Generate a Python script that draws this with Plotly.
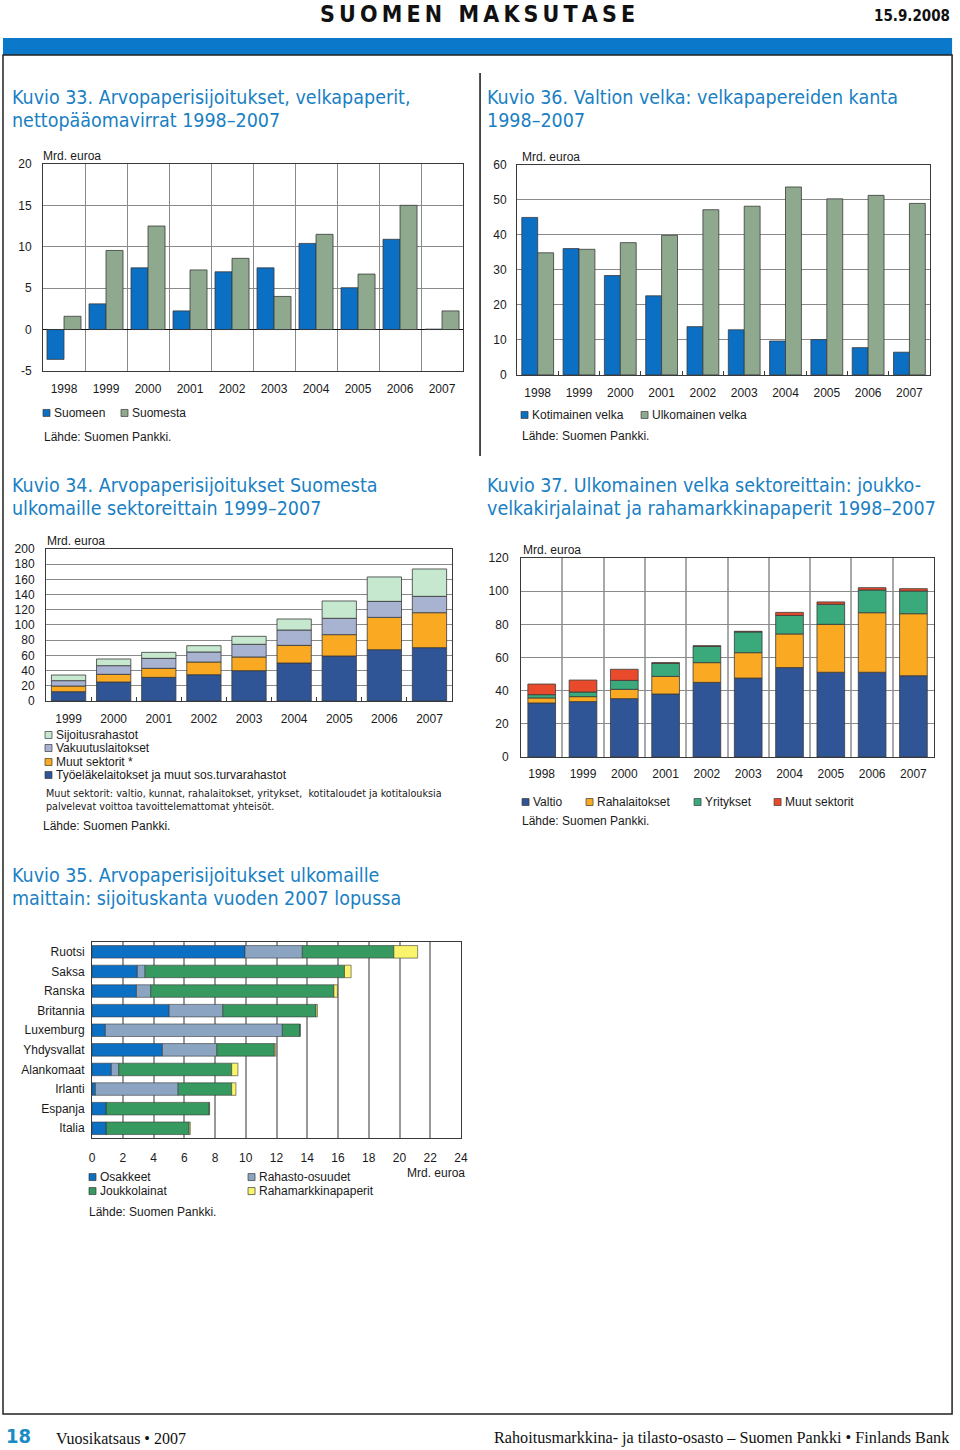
import plotly.graph_objects as go
import numpy as np

# ---------------- data ----------------
years_98 = ["1998", "1999", "2000", "2001", "2002", "2003", "2004", "2005", "2006", "2007"]
years_99 = ["1999", "2000", "2001", "2002", "2003", "2004", "2005", "2006", "2007"]

# Kuvio 33
suomeen = [-3.6, 3.1, 7.45, 2.25, 6.97, 7.45, 10.4, 5.05, 10.9, 0.05]
suomesta = [1.6, 9.55, 12.5, 7.2, 8.6, 4.0, 11.5, 6.7, 15.0, 2.25]
ticks_33 = [-5, 0, 5, 10, 15, 20]
ticklabels_33 = ["-5", "0", "5", "10", "15", "20"]

# Kuvio 36
kotimainen = [45.0, 36.1, 28.4, 22.6, 13.8, 12.9, 9.7, 10.1, 7.8, 6.5]
ulkomainen = [34.9, 35.9, 37.8, 39.9, 47.2, 48.2, 53.7, 50.3, 51.3, 49.0]

# Kuvio 34
tyoelake = [12.3, 25.0, 31.1, 34.6, 39.9, 50.0, 59.2, 67.5, 70.2]
muut_34 = [7.4, 10.1, 11.9, 16.7, 18.0, 23.2, 28.1, 42.5, 46.0]
vakuutus = [7.1, 11.4, 13.1, 13.2, 16.7, 20.2, 21.5, 21.1, 21.5]
sijoitus = [7.4, 8.8, 7.9, 8.3, 10.5, 14.5, 22.8, 32.1, 36.0]

# Kuvio 37
valtio = [32.6, 33.4, 35.2, 38.0, 45.0, 47.6, 53.9, 51.1, 51.1, 49.0]
rahalaitokset = [3.0, 3.0, 5.6, 10.6, 11.9, 15.3, 20.3, 28.9, 35.9, 37.4]
yritykset = [2.0, 2.8, 5.4, 7.9, 9.8, 12.5, 11.2, 12.1, 13.7, 13.7]
muut_37 = [6.4, 7.2, 6.7, 0.4, 0.4, 0.4, 1.8, 1.4, 1.4, 1.4]

# Kuvio 35
maat = ["Ruotsi", "Saksa", "Ranska", "Britannia", "Luxemburg", "Yhdysvallat",
        "Alankomaat", "Irlanti", "Espanja", "Italia"]
osakkeet = [9.95, 2.95, 2.89, 5.02, 0.87, 4.58, 1.26, 0.22, 0.93, 0.93]
rahasto = [3.73, 0.50, 0.93, 3.49, 11.51, 3.54, 0.48, 5.38, 0.0, 0.0]
joukko = [5.95, 12.97, 11.91, 6.06, 1.15, 3.74, 7.34, 3.48, 6.69, 5.39]
rahamarkkina = [1.55, 0.43, 0.23, 0.09, 0.0, 0.09, 0.41, 0.28, 0.03, 0.07]

# ---------------- style ----------------
W, H = 960, 1450
FONT = "Liberation Sans, Arial, sans-serif"
NARROW = "Liberation Sans Narrow, Arial Narrow, DejaVu Sans Condensed, sans-serif"
SERIF = "Liberation Serif, Times New Roman, serif"
TXT = "#1a1a1a"
TITLE_C = "#1a7fc3"
BLUE = "#0b6fc4"
GREYGREEN = "#8ea98e"
NAVY = "#2f5596"
ORANGE = "#f9aa22"
LAVENDER = "#a8b3d2"
LIGHTGREEN = "#c5e8cf"
TEAL = "#3aa97c"
RED = "#ea4a2c"
STEEL = "#8ba4c2"
GREEN35 = "#36995f"
YELLOW = "#faf46c"
OUTLINE = "#3a3a3a"
GRID = "#8a8a8a"

# layout positions are given in page pixels; small correction for the page photo offset
SX, OX = 0.9895, 3.0
SY, OY = 0.9902, 6.1


def px(x):
    return ((x - OX) / SX) / W


def py(y):
    return 1 - ((y - OY) / SY) / H


fig = go.Figure()


def bar_v(x, y, color, xa, ya, offset, width, base=None):
    fig.add_trace(go.Bar(x=x, y=y, base=base, marker=dict(color=color, line=dict(color=OUTLINE, width=0.8)),
                         offset=offset, width=width, xaxis=xa, yaxis=ya, showlegend=False,
                         hoverinfo="x+y"))


def stack_v(x, series, xa, ya, width):
    cum = np.zeros(len(x))
    for vals, col in series:
        bar_v(x, vals, col, xa, ya, -width / 2, width, base=cum.copy())
        cum = cum + np.array(vals)


# Kuvio 33 (grouped)
bw = 0.405
bar_v(years_98, suomeen, BLUE, "x", "y", -bw, bw)
bar_v(years_98, suomesta, GREYGREEN, "x", "y", 0, bw)
# Kuvio 36 (grouped)
bw2 = 0.385
bar_v(years_98, kotimainen, BLUE, "x2", "y2", -bw2, bw2)
bar_v(years_98, ulkomainen, GREYGREEN, "x2", "y2", 0, bw2)
# Kuvio 34 (stacked)
stack_v(years_99, [(tyoelake, NAVY), (muut_34, ORANGE), (vakuutus, LAVENDER), (sijoitus, LIGHTGREEN)],
        "x3", "y3", 0.76)
# Kuvio 37 (stacked)
stack_v(years_98, [(valtio, NAVY), (rahalaitokset, ORANGE), (yritykset, TEAL), (muut_37, RED)],
        "x4", "y4", 0.67)
# Kuvio 35 (horizontal stacked)
cum = np.zeros(len(maat))
hw = 0.64
for vals, col in [(osakkeet, BLUE), (rahasto, STEEL), (joukko, GREEN35), (rahamarkkina, YELLOW)]:
    fig.add_trace(go.Bar(y=maat, x=vals, base=cum.copy(), orientation="h",
                         marker=dict(color=col, line=dict(color=OUTLINE, width=0.6)),
                         offset=-hw / 2, width=hw, xaxis="x5", yaxis="y5", showlegend=False,
                         hoverinfo="y+x"))
    cum = cum + np.array(vals)

axis_font = dict(family=FONT, size=12, color=TXT)


def xcat(domain, anchor, grid, standoff, gridcolor=GRID, gridwidth=1):
    return dict(domain=[px(domain[0]), px(domain[1])], anchor=anchor, type="category",
                tickson="boundaries", showgrid=grid, gridcolor=gridcolor, gridwidth=gridwidth,
                showline=True, linecolor=OUTLINE, linewidth=1, mirror=True,
                ticks="inside" if not grid else "", ticklen=4, tickcolor=OUTLINE,
                tickfont=axis_font, ticklabelstandoff=standoff, fixedrange=True)


def yval(domain, anchor, rng, dtick, standoff):
    return dict(domain=[py(domain[1]), py(domain[0])], anchor=anchor, range=rng, dtick=dtick,
                showgrid=True, gridcolor=GRID, gridwidth=1, zeroline=False,
                showline=True, linecolor=OUTLINE, linewidth=1, mirror=True,
                ticks="", tickfont=axis_font, ticklabelstandoff=standoff, fixedrange=True)


y33 = yval((163, 370), "x", [-5, 20], 5, 8)
y33.update(tickmode="array", tickvals=ticks_33, ticktext=ticklabels_33,
           zeroline=True, zerolinecolor="#111111", zerolinewidth=1)

fig.update_layout(
    xaxis=xcat((43, 463), "y", True, 7),
    yaxis=y33,
    xaxis2=xcat((517, 930), "y2", False, 7),
    yaxis2=yval((164, 374), "x2", [0, 60], 10, 7),
    xaxis3=xcat((46, 452), "y3", False, 7),
    yaxis3=yval((548, 700), "x3", [0, 200], 20, 8),
    xaxis4=xcat((521, 934), "y4", True, 6, gridcolor="#a9a9a9", gridwidth=1.6),
    yaxis4=yval((557, 756), "x4", [0, 120], 20, 9),
    xaxis5=dict(domain=[px(92), px(461)], anchor="y5", range=[0, 24], dtick=2,
                showgrid=True, gridcolor="#999999", gridwidth=1.5, zeroline=False,
                showline=True, linecolor=OUTLINE, linewidth=1, mirror=True,
                tickfont=axis_font, ticklabelstandoff=9, fixedrange=True),
    yaxis5=dict(domain=[py(1137), py(941)], anchor="x5", type="category", autorange="reversed",
                showgrid=False, showline=True, linecolor=OUTLINE, linewidth=1, mirror=True,
                tickfont=axis_font, ticklabelstandoff=4, fixedrange=True),
)

shapes = []
annotations = []


def text(x, y, s, size=12, anchor="left", color=TXT, family=FONT, bold=False):
    if bold:
        s = "<b>" + s + "</b>"
    annotations.append(dict(x=px(x), y=py(y), xref="paper", yref="paper", text=s, showarrow=False,
                            xanchor=anchor, yanchor="middle", font=dict(family=family, size=size, color=color)))


def legend_item(x, y, color, label, size=12):
    shapes.append(dict(type="rect", xref="paper", yref="paper", x0=px(x), x1=px(x + 7),
                       y0=py(y + 3.5), y1=py(y - 3.5), fillcolor=color,
                       line=dict(color=OUTLINE, width=0.7)))
    text(x + 9, y, label, size=size)


# page frame
shapes.append(dict(type="rect", xref="paper", yref="paper", x0=px(3), x1=px(952), y0=py(54), y1=py(37),
                   fillcolor="#0b78c9", line=dict(width=0)))
shapes.append(dict(type="rect", xref="paper", yref="paper", x0=px(3), x1=px(952), y0=py(1413), y1=py(54),
                   line=dict(color="#222222", width=1.5)))
shapes.append(dict(type="line", xref="paper", yref="paper", x0=px(480), x1=px(480), y0=py(455), y1=py(72),
                   line=dict(color="#111111", width=1.5)))

# header / footer
TS = "\u2009"
header = (TS.join("SUOMEN")) + TS * 4 + (TS.join("MAKSUTASE"))
text(477, 13, header, size=23, anchor="center", family=NARROW, bold=True, color="#111111")
text(952, 15, "15.9.2008", size=15, anchor="right", family=NARROW, bold=True, color="#111111")
text(4, 1435, "18", size=20, family=NARROW, bold=True, color="#1a8cc4")
text(54, 1437, "Vuosikatsaus • 2007", size=16, family=SERIF, color="#111111")
text(952, 1437, "Rahoitusmarkkina- ja tilasto-osasto – Suomen Pankki • Finlands Bank", size=16.2,
     anchor="right", family=SERIF, color="#111111")

# titles
for x, y, s in [
    (10, 97, "Kuvio 33. Arvopaperisijoitukset, velkapaperit,"),
    (10, 120, "nettopääomavirrat 1998–2007"),
    (485, 97, "Kuvio 36. Valtion velka: velkapapereiden kanta"),
    (485, 120, "1998–2007"),
    (10, 485, "Kuvio 34. Arvopaperisijoitukset Suomesta"),
    (10, 508, "ulkomaille sektoreittain 1999–2007"),
    (485, 485, "Kuvio 37. Ulkomainen velka sektoreittain: joukko-"),
    (485, 508, "velkakirjalainat ja rahamarkkinapaperit 1998–2007"),
    (10, 874, "Kuvio 35. Arvopaperisijoitukset ulkomaille"),
    (10, 897, "maittain: sijoituskanta vuoden 2007 lopussa"),
]:
    text(x, y, s, size=19.5, family=NARROW, color=TITLE_C)

# units
text(41, 155, "Mrd. euroa")
text(520, 156, "Mrd. euroa")
text(45, 540, "Mrd. euroa")
text(521, 549, "Mrd. euroa")
text(467, 1172, "Mrd. euroa", anchor="right")

# legends
legend_item(43, 412, BLUE, "Suomeen")
legend_item(121, 412, GREYGREEN, "Suomesta")
text(42, 436, "Lähde: Suomen Pankki.")

legend_item(521, 414, BLUE, "Kotimainen velka")
legend_item(641, 414, GREYGREEN, "Ulkomainen velka")
text(520, 435, "Lähde: Suomen Pankki.")

legend_item(45, 734, LIGHTGREEN, "Sijoitusrahastot")
legend_item(45, 747, LAVENDER, "Vakuutuslaitokset")
legend_item(45, 761, ORANGE, "Muut sektorit *")
legend_item(45, 774, NAVY, "Työeläkelaitokset ja muut sos.turvarahastot")
text(44, 792, "Muut sektorit: valtio, kunnat, rahalaitokset, yritykset,  kotitaloudet ja kotitalouksia",
     size=10.7, family=NARROW)
text(44, 805, "palvelevat voittoa tavoittelemattomat yhteisöt.", size=10.7, family=NARROW)
text(41, 825, "Lähde: Suomen Pankki.")

legend_item(522, 801, NAVY, "Valtio")
legend_item(586, 801, ORANGE, "Rahalaitokset")
legend_item(694, 801, TEAL, "Yritykset")
legend_item(774, 801, RED, "Muut sektorit")
text(520, 820, "Lähde: Suomen Pankki.")

legend_item(89, 1176, BLUE, "Osakkeet")
legend_item(248, 1176, STEEL, "Rahasto-osuudet")
legend_item(89, 1190, GREEN35, "Joukkolainat")
legend_item(248, 1190, YELLOW, "Rahamarkkinapaperit")
text(87, 1211, "Lähde: Suomen Pankki.")

fig.update_layout(
    width=W, height=H, margin=dict(l=0, r=0, t=0, b=0),
    paper_bgcolor="white", plot_bgcolor="white",
    font=dict(family=FONT, size=12, color=TXT),
    barmode="overlay", showlegend=False,
    shapes=shapes, annotations=annotations,
)

fig.write_html(
    "out.html",
    config={"displayModeBar": False},
    post_script=(
        "document.documentElement.style.margin='0px';"
        "document.body.style.margin='0px';document.body.style.padding='0px';"
        "document.body.style.overflow='hidden';"
        "var gd=document.getElementById('{plot_id}');"
        "gd.style.position='fixed';gd.style.top='0px';gd.style.left='0px';"
    ),
)
